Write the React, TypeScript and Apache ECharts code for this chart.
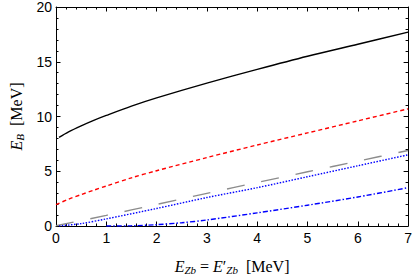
import React, { useEffect, useRef } from "react";
import * as echarts from "echarts";

const xBlack = [0.06, 0.25, 0.5, 0.75, 1, 1.5, 2, 3, 4, 5, 6, 7];
const yBlack = [8.1, 8.6, 9.15, 9.65, 10.1, 10.95, 11.7, 13.05, 14.3, 15.5, 16.6, 17.7];
const xRed = [0, 0.25, 0.5, 0.75, 1, 1.5, 2, 3, 4, 5, 6, 7];
const yRed = [1.95, 2.45, 2.87, 3.27, 3.65, 4.4, 5.05, 6.25, 7.4, 8.5, 9.6, 10.7];
const xGray = [0, 1, 2, 3, 4, 5, 6, 7];
const yGray = [0.02, 0.97, 1.97, 2.98, 3.98, 4.95, 5.92, 6.9];
const xDot = [0.06, 0.5, 1, 2, 3, 4, 5, 6, 7];
const yDot = [0.0, 0.22, 0.65, 1.6, 2.6, 3.5, 4.5, 5.5, 6.5];
const xDashDot = [1.0, 1.5, 2, 2.5, 3, 4, 5, 6, 7];
const yDashDot = [0.0, 0.02, 0.12, 0.3, 0.55, 1.2, 1.9, 2.65, 3.5];

const xTicks = [0, 1, 2, 3, 4, 5, 6, 7];
const yTicks = [0, 5, 10, 15, 20];

const zip = (xs: number[], ys: number[]) => xs.map((x, i) => [x, ys[i]]);

export default function App() {
  const ref = useRef<HTMLDivElement>(null);
  useEffect(() => {
    const chart = echarts.init(ref.current!, undefined, { renderer: "svg" });
    const rich = {
      i: { fontFamily: "Liberation Serif", fontStyle: "italic", fontSize: 16, color: "#000" },
      n: { fontFamily: "Liberation Serif", fontSize: 16, color: "#000" },
      sub: {
        fontFamily: "Liberation Serif",
        fontStyle: "italic",
        fontSize: 11,
        color: "#000",
        padding: [7, 0, 0, 0],
      },
    };
    const axisCommon = {
      type: "value" as const,
      axisLine: { show: true, onZero: false, lineStyle: { color: "#000", width: 1 } },
      axisTick: { show: true, inside: true, length: 4.5, lineStyle: { color: "#000" } },
      minorTick: { show: true, splitNumber: 5, length: 2.5, lineStyle: { color: "#000" } },
      splitLine: { show: false },
    };
    const labelStyle = {
      fontFamily: "Liberation Sans",
      fontSize: 14,
      color: "#000",
    };
    const line = (data: number[][], color: string, type: any, width = 1.4) => ({
      type: "line",
      data,
      smooth: 0.3,
      showSymbol: false,
      symbol: "none",
      xAxisIndex: 0,
      yAxisIndex: 0,
      lineStyle: { color, type, width },
    });
    chart.setOption({
      animation: false,
      grid: { left: 52, right: 5, top: 7, bottom: 51, containLabel: false },
      xAxis: [
        {
          ...axisCommon,
          min: 0,
          max: 7,
          interval: 1,
          position: "bottom",
          axisLabel: { ...labelStyle, margin: 5, formatter: (v: number) => (xTicks.includes(v) ? String(v) : "") },
          name: "{i|E}{sub|Zb}{n| = }{i|E}{n|′}{sub|Zb}{n|  [MeV]}",
          nameLocation: "middle",
          nameGap: 31,
          nameTextStyle: { rich },
        },
        {
          ...axisCommon,
          min: 0,
          max: 7,
          interval: 1,
          position: "top",
          axisLabel: { show: false },
        },
      ],
      yAxis: [
        {
          ...axisCommon,
          min: 0,
          max: 20,
          interval: 5,
          position: "left",
          axisLabel: { ...labelStyle, margin: 4, formatter: (v: number) => (yTicks.includes(v) ? String(v) : "") },
          name: "{i|E}{sub|B}{n|  [MeV]}",
          nameLocation: "middle",
          nameRotate: 90,
          nameGap: 31,
          nameTextStyle: { rich },
        },
        {
          ...axisCommon,
          min: 0,
          max: 20,
          interval: 5,
          position: "right",
          axisLabel: { show: false },
        },
      ],
      series: [
        line(zip(xBlack, yBlack), "#000000", "solid"),
        line(zip(xRed, yRed), "#ff0000", [4, 3]),
        line(zip(xGray, yGray), "#8c8c8c", [18, 17]),
        line(zip(xDot, yDot), "#0000ff", [1.5, 1.5]),
        line(zip(xDashDot, yDashDot), "#0000ff", [5, 2, 1.5, 2]),
      ],
    });
    return () => chart.dispose();
  }, []);
  return <div ref={ref} style={{ width: 415, height: 280, position: "absolute", left: 0, top: 0 }} />;
}
